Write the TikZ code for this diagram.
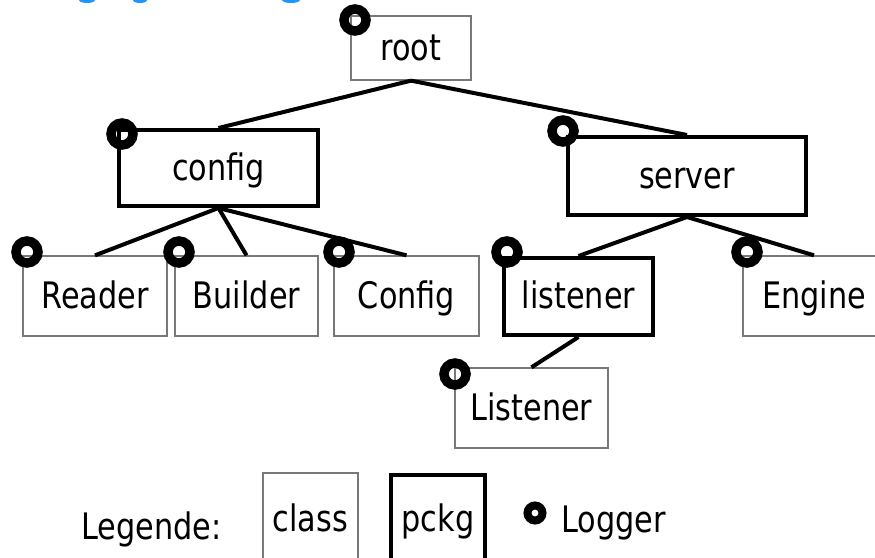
\documentclass[tikz,border=0pt]{standalone}
\usepackage{fontspec}
\setmainfont[FakeStretch=0.83]{DejaVu Sans}
\definecolor{titleblue}{RGB}{30,150,255}
\definecolor{classgray}{RGB}{120,120,120}

\begin{document}
\begin{tikzpicture}[
  x=1pt, y=-1pt,
  every node/.style={
    inner sep=0pt, align=center,
    font=\fontsize{36.5pt}{44pt}\selectfont,
    text height=31.4pt, text depth=6.6pt
  },
  classbox/.style={draw=classgray, line width=1.3pt, rectangle},
  pkgbox/.style={draw, line width=4pt, rectangle},
  logger/.style={draw, circle, line width=9.5pt, minimum size=22pt,
    text height=0pt, text depth=0pt},
  link/.style={line width=4pt}
]
\useasboundingbox (0,0) rectangle (875,557);
\clip (0,0) rectangle (875,557);

% cut-off title at the top
\foreach \x/\w in {87/8,140/7,291/9}
  \fill[titleblue] (\x,0) ellipse ({\w} and 3);

% tree
\node[classbox, minimum width=120, minimum height=64] (root) at (411,48) {root};
\node[pkgbox, minimum width=199, minimum height=76] (config) at (218.5,168) {config};
\node[pkgbox, minimum width=238, minimum height=78] (server) at (687,176) {server};
\node[classbox, minimum width=144, minimum height=80] (reader) at (95,296) {Reader};
\node[classbox, minimum width=143, minimum height=80] (builder) at (246.5,296) {Builder};
\node[classbox, minimum width=145, minimum height=80] (configcls) at (406.5,296) {Config};
\node[pkgbox, minimum width=149, minimum height=77] (listener) at (578.5,296.5) {listener};
\node[classbox, minimum width=142, minimum height=80] (engine) at (814,296) {Engine};
\node[classbox, minimum width=153, minimum height=80] (listenercls) at (531.5,408) {Listener};

\draw[link] (root.south) -- (config.north);
\draw[link] (root.south) -- (server.north);
\draw[link] (config.south) -- (reader.north);
\draw[link] (config.south) -- (builder.north);
\draw[link] (config.south) -- (configcls.north);
\draw[link] (server.south) -- (listener.north);
\draw[link] (server.south) -- (engine.north);
\draw[link] (listener.south) -- (listenercls.north);

% loggers
\node[logger] (lroot) at (355,20) {};
\node[logger] (lconfig) at (122,134) {};
\node[logger] (lserver) at (563,131) {};
\node[logger] (lreader) at (27,252) {};
\node[logger] (lbuilder) at (179,252) {};
\node[logger] (lconfigcls) at (339,252) {};
\node[logger] (llistener) at (507,252) {};
\node[logger] (lengine) at (747,252) {};
\node[logger] (llistenercls) at (455,374) {};

% legend
\node[anchor=base west] (legend) at (81,539) {Legende:};
\node[classbox, minimum width=95, minimum height=92] (legclass) at (310.5,519) {class};
\node[pkgbox, minimum width=94, minimum height=88] (legpckg) at (438,519) {pckg};
\node[logger, line width=8pt, minimum size=15pt] (legring) at (535,513) {};
\node[anchor=base west] (leglogger) at (561,532) {Logger};
\end{tikzpicture}
\end{document}
